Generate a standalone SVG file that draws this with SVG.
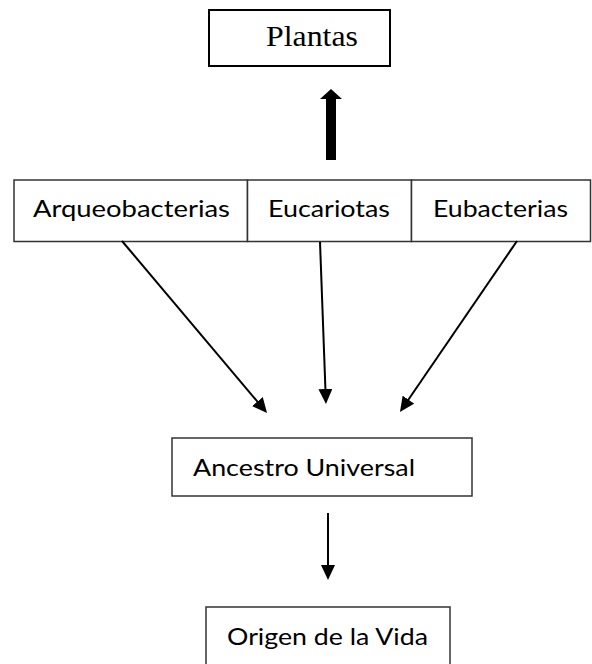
<svg xmlns="http://www.w3.org/2000/svg" width="592" height="664" viewBox="0 0 592 664">
<style>
.box{fill:#fff;stroke:#333;stroke-width:1.5}
.boxb{fill:#fff;stroke:#000;stroke-width:2}
.t{font-family:Lato,"Open Sans","Liberation Sans",sans-serif;font-size:24px;fill:#000}
.ts{font-family:"Liberation Serif","Times New Roman",serif;font-size:29px;fill:#000}
.c{fill:none;stroke:#000;stroke-width:2}
</style>
<defs>
<marker id="ah" viewBox="0 0 15 14" refX="5" refY="7" markerWidth="15" markerHeight="14" markerUnits="userSpaceOnUse" orient="auto">
<path d="M0,0 L15,7 L0,14 z" fill="#000"/>
</marker>
</defs>
<g id="plantas">
<rect class="boxb" x="209" y="10" width="181" height="56"/>
<text class="ts" x="266" y="46" textLength="92" lengthAdjust="spacingAndGlyphs">Plantas</text>
</g>
<g id="arqueobacterias">
<rect class="box" x="14" y="180" width="233.5" height="61.5"/>
<text class="t" x="33" y="217" textLength="197" lengthAdjust="spacingAndGlyphs">Arqueobacterias</text>
</g>
<g id="eucariotas">
<rect class="box" x="247.5" y="180" width="164" height="61.5"/>
<text class="t" x="268" y="217" textLength="122" lengthAdjust="spacingAndGlyphs">Eucariotas</text>
</g>
<g id="eubacterias">
<rect class="box" x="411.5" y="180" width="179" height="61.5"/>
<text class="t" x="433" y="217" textLength="135" lengthAdjust="spacingAndGlyphs">Eubacterias</text>
</g>
<g id="ancestro">
<rect class="box" x="172" y="438" width="300" height="58"/>
<text class="t" x="193" y="476" textLength="222" lengthAdjust="spacingAndGlyphs">Ancestro Universal</text>
</g>
<g id="origen">
<rect class="box" x="206" y="607" width="244" height="70"/>
<text class="t" x="227" y="645" textLength="201" lengthAdjust="spacingAndGlyphs">Origen de la Vida</text>
</g>
<g id="connectors">
<polygon points="326,160 326,99 320,99 331,89 342,99 336,99 336,160" fill="#000"/>
<path class="c" d="M122,241 L260.6,405.4" marker-end="url(#ah)"/>
<path class="c" d="M320,242 L325.6,394" marker-end="url(#ah)"/>
<path class="c" d="M517,241 L405.6,403.7" marker-end="url(#ah)"/>
<path class="c" d="M328,513 L328,570" marker-end="url(#ah)"/>
</g>
</svg>
